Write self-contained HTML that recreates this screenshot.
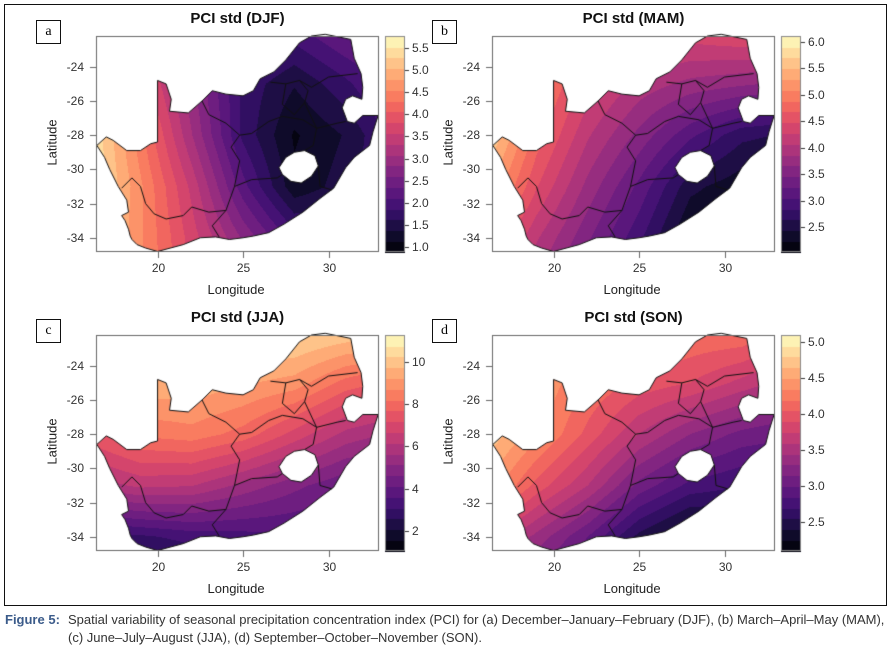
<!DOCTYPE html>
<html><head><meta charset="utf-8">
<style>
body{margin:0;background:#fff;width:894px;height:658px;position:relative;overflow:hidden;font-family:"Liberation Sans",sans-serif;}
.abs{position:absolute;}
.frame{position:absolute;left:4px;top:4px;width:881px;height:600px;border:1px solid #111;}
.title{position:absolute;font-weight:bold;font-size:15px;color:#111;width:300px;text-align:center;}
.lbl{position:absolute;width:23px;height:22px;border:1px solid #111;font-family:"Liberation Serif",serif;font-size:14px;text-align:center;line-height:21px;background:#fff;}
.tick{position:absolute;font-size:12px;color:#333;}
.axt{position:absolute;font-size:13px;color:#222;}
.ylab{position:absolute;font-size:13px;color:#222;transform:rotate(-90deg);transform-origin:center;width:80px;text-align:center;}
.cap{position:absolute;font-family:"Liberation Sans Narrow","Liberation Sans",sans-serif;font-size:13px;color:#333;}
</style></head>
<body>
<div class="frame"></div>
<canvas id="cv" width="894" height="658" class="abs" style="left:0;top:0"></canvas>
<div id="txt"></div>
<div class="cap" style="left:5px;top:612px;font-weight:bold;color:#3b5b8a">Figure 5:</div>
<div class="cap" style="left:68px;top:612px;width:820px;white-space:nowrap">Spatial variability of seasonal precipitation concentration index (PCI) for (a) December–January–February (DJF), (b) March–April–May (MAM),</div>
<div class="cap" style="left:68px;top:630px;white-space:nowrap">(c) June–July–August (JJA), (d) September–October–November (SON).</div>
<script>
const gridLons=[16,19,22,25,28,31,34];
const gridLats=[-22,-25,-28,-31,-34,-37];
const gridDJF=[
[4.8,3.8,3.0,2.3,2.0,2.4,2.6],
[5.2,4.0,2.9,1.8,1.4,1.8,2.3],
[5.6,4.4,3.1,1.8,1.1,1.4,2.0],
[5.6,4.6,3.5,2.2,1.2,1.5,2.0],
[5.4,4.6,3.7,2.8,2.0,1.9,2.2],
[5.2,4.6,3.8,3.0,2.4,2.2,2.4]];
const gridMAM=[
[5.6,5.2,4.8,4.5,4.4,4.5,4.5],
[5.8,5.0,4.4,4.0,3.8,3.7,3.6],
[5.8,4.8,4.1,3.6,3.1,2.7,2.6],
[5.4,4.5,3.8,3.2,2.5,2.3,2.3],
[4.8,4.1,3.5,2.9,2.2,2.1,2.1],
[4.4,3.8,3.2,2.6,2.1,2.0,2.0]];
const gridJJA=[
[10.5,10.5,10.5,10.5,10.5,10.2,10],
[9.5,9.6,9.6,9.3,9.0,8.0,7.5],
[7.5,8.3,8.5,8.0,7.0,6.0,5.5],
[5.8,6.3,6.2,5.5,4.8,4.2,4.0],
[2.8,3.0,3.3,3.4,3.5,3.4,3.3],
[1.5,1.5,2.0,2.5,3.0,3.0,3.0]];
const gridSON=[
[4.6,4.5,4.4,4.3,4.2,4.2,4.0],
[4.8,4.5,4.2,4.0,3.9,3.7,3.5],
[4.8,4.4,4.0,3.6,3.3,3.1,3.0],
[4.5,4.0,3.6,3.1,2.8,2.7,2.8],
[3.8,3.4,3.0,2.5,2.2,2.3,2.5],
[3.4,3.0,2.7,2.3,2.1,2.2,2.4]];
const ticksDJF=[1.0,1.5,2.0,2.5,3.0,3.5,4.0,4.5,5.0,5.5];
const ticksMAM=[2.5,3.0,3.5,4.0,4.5,5.0,5.5,6.0];
const ticksJJA=[2,4,6,8,10];
const ticksSON=[2.5,3.0,3.5,4.0,4.5,5.0];
const rangeDJF=[0.89,5.77], rangeMAM=[2.03,6.11], rangeJJA=[1.07,11.26], rangeSON=[2.1,5.1];
const lonTicks=[20,25,30];
const latTicks=[-24,-26,-28,-30,-32,-34];

const outline=[[16.45,-28.6],[17.0,-28.1],[17.4,-28.3],[18.2,-28.9],[19.0,-28.9],[19.6,-28.5],[20.0,-28.4],[20.0,-24.8],[20.5,-25.0],[20.8,-25.9],[20.7,-26.6],[21.8,-26.7],[22.6,-26.0],[23.2,-25.4],[24.0,-25.6],[25.0,-25.7],[25.6,-25.4],[26.0,-24.7],[26.8,-24.3],[27.5,-23.6],[28.3,-22.6],[29.0,-22.2],[29.8,-22.1],[31.3,-22.4],[31.5,-23.5],[31.9,-24.4],[32.0,-25.2],[31.95,-25.9],[31.4,-25.7],[31.0,-25.9],[30.8,-26.4],[31.1,-27.2],[31.5,-27.3],[32.0,-26.85],[32.9,-26.85],[32.6,-27.8],[32.4,-28.6],[31.5,-29.3],[31.0,-29.9],[30.3,-31.1],[29.5,-31.7],[28.5,-32.5],[27.4,-33.2],[26.5,-33.7],[25.6,-33.9],[25.0,-34.0],[24.2,-34.1],[23.4,-33.95],[22.5,-34.0],[21.5,-34.4],[20.0,-34.8],[19.3,-34.6],[18.8,-34.4],[18.5,-34.1],[18.4,-33.9],[18.3,-33.5],[18.1,-33.0],[17.9,-32.7],[18.3,-32.5],[18.2,-31.8],[17.7,-31.0],[17.2,-30.0],[16.9,-29.3]];
const lesotho=[[27.1,-29.9],[27.5,-29.3],[28.0,-29.0],[28.6,-28.9],[29.2,-29.2],[29.4,-29.8],[29.0,-30.4],[28.4,-30.8],[27.8,-30.7],[27.3,-30.3]];
const provinces=[
[[17.9,-31.1],[18.5,-30.5],[19.0,-31.0],[19.3,-32.0],[19.8,-32.6],[20.5,-32.9],[21.5,-32.7],[22.0,-32.2],[23.0,-32.5],[24.0,-32.4]],
[[24.0,-32.4],[23.2,-33.3],[23.6,-33.95]],
[[24.0,-32.4],[24.5,-31.0],[25.5,-30.6],[27.0,-30.5],[27.3,-30.3]],
[[24.5,-31.0],[24.8,-29.5],[24.3,-28.7],[24.8,-28.0]],
[[22.6,-26.0],[23.0,-26.8],[24.0,-27.3],[24.8,-28.0],[25.5,-27.9],[26.5,-27.2],[27.3,-26.9],[28.5,-27.1],[29.3,-27.6],[29.1,-28.6],[28.6,-28.9]],
[[29.4,-29.8],[29.5,-31.0],[30.2,-31.2]],
[[29.3,-27.6],[30.5,-27.3],[31.0,-27.2]],
[[26.6,-24.9],[27.5,-25.0],[28.3,-24.8],[29.0,-25.2],[30.0,-24.6],[31.7,-24.4]],
[[27.5,-25.0],[27.3,-26.2],[28.0,-26.8],[28.6,-26.1],[28.8,-25.4],[28.3,-24.8]],
[[28.6,-26.1],[29.3,-27.6]]];

const panels=[
{id:'djf',key:'a',title:'PCI std (DJF)',x:96,y:36,grid:gridDJF,ticks:ticksDJF,range:rangeDJF,dec:1},
{id:'mam',key:'b',title:'PCI std (MAM)',x:492,y:36,grid:gridMAM,ticks:ticksMAM,range:rangeMAM,dec:1},
{id:'jja',key:'c',title:'PCI std (JJA)',x:96,y:335,grid:gridJJA,ticks:ticksJJA,range:rangeJJA,dec:0},
{id:'son',key:'d',title:'PCI std (SON)',x:492,y:335,grid:gridSON,ticks:ticksSON,range:rangeSON,dec:1}];
const W=283,H=216,S=17.1,LON0=16.4,LAT0=-22.2,NB=20;
const mag=[[0,0,4],[20,14,54],[59,15,112],[100,26,128],[140,41,129],[183,55,121],[222,73,104],[247,112,92],[254,159,109],[254,207,146],[252,253,191]];
function magma(t){t=Math.max(0,Math.min(1,t))*10;const i=Math.min(9,Math.floor(t)),f=t-i;return mag[i].map((c,k)=>Math.round(c+(mag[i+1][k]-c)*f));}
function interp(g,lon,lat){
 let i=0;while(i<gridLons.length-2&&lon>gridLons[i+1])i++;
 let j=0;while(j<gridLats.length-2&&lat<gridLats[j+1])j++;
 const fx=Math.max(0,Math.min(1,(lon-gridLons[i])/(gridLons[i+1]-gridLons[i])));
 const fy=Math.max(0,Math.min(1,(lat-gridLats[j])/(gridLats[j+1]-gridLats[j])));
 const a=g[j][i]*(1-fx)+g[j][i+1]*fx,b=g[j+1][i]*(1-fx)+g[j+1][i+1]*fx;return a*(1-fy)+b*fy;}
const cv=document.getElementById('cv'),ctx=cv.getContext('2d');
const txt=document.getElementById('txt');
function addText(cls,html,style,name){const d=document.createElement('div');d.className=cls;d.innerHTML=html;d.style.cssText=style;


txt.appendChild(d);return d;}
panels.forEach(p=>{
 const px=lon=>p.x+(lon-LON0)*S, py=lat=>p.y+(LAT0-lat)*S;
 const [vmin,vmax]=p.range;
 const off=document.createElement('canvas');off.width=W;off.height=H;const oc=off.getContext('2d');const im=oc.createImageData(W,H);
 for(let yy=0;yy<H;yy++)for(let xx=0;xx<W;xx++){
  const v=interp(p.grid,LON0+(xx+0.5)/S,LAT0-(yy+0.5)/S);
  let b=Math.floor((v-vmin)/(vmax-vmin)*NB);b=Math.max(0,Math.min(NB-1,b));
  const c=magma((b+0.5)/NB),k=(yy*W+xx)*4;im.data[k]=c[0];im.data[k+1]=c[1];im.data[k+2]=c[2];im.data[k+3]=255;}
 oc.putImageData(im,0,0);
 const path=()=>{ctx.beginPath();outline.forEach((q,i)=>i?ctx.lineTo(px(q[0]),py(q[1])):ctx.moveTo(px(q[0]),py(q[1])));ctx.closePath();
  lesotho.forEach((q,i)=>i?ctx.lineTo(px(q[0]),py(q[1])):ctx.moveTo(px(q[0]),py(q[1])));ctx.closePath();};
 ctx.save();path();ctx.clip('evenodd');ctx.drawImage(off,p.x,p.y);ctx.restore();
 ctx.strokeStyle='#111';ctx.lineWidth=1;path();ctx.stroke();
 provinces.forEach(l=>{ctx.beginPath();l.forEach((q,i)=>i?ctx.lineTo(px(q[0]),py(q[1])):ctx.moveTo(px(q[0]),py(q[1])));ctx.stroke();});
 ctx.strokeStyle='#666';ctx.strokeRect(p.x+0.5,p.y+0.5,W-1,H-1);
 ctx.beginPath();
 lonTicks.forEach(t=>{const x=Math.round(px(t))+0.5;ctx.moveTo(x,p.y+H);ctx.lineTo(x,p.y+H+6);
  addText('tick',String(t),`left:${x-9}px;top:${p.y+H+9}px;width:18px;text-align:center`,'x-tick-label');});
 latTicks.forEach(t=>{const y=Math.round(py(t))+0.5;ctx.moveTo(p.x,y);ctx.lineTo(p.x-6,y);
  addText('tick',String(t),`left:${p.x-38}px;top:${y-8}px;width:26px;text-align:right`,'y-tick-label');});
 ctx.stroke();
 const cx=p.x+289,cw=20;
 for(let b=0;b<NB;b++){const c=magma((b+0.5)/NB);ctx.fillStyle=`rgb(${c})`;const y0=p.y+H-(b+1)*H/NB;ctx.fillRect(cx,Math.floor(y0),cw,Math.ceil(H/NB)+1);}
 ctx.strokeStyle='#888';ctx.strokeRect(cx+0.5,p.y+0.5,cw-1,H-1);
 ctx.strokeStyle='#333';ctx.beginPath();
 p.ticks.forEach(t=>{const y=Math.round(p.y+H-(t-vmin)/(vmax-vmin)*H)+0.5;ctx.moveTo(cx+cw,y);ctx.lineTo(cx+cw+4,y);
  addText('tick',t.toFixed(p.dec),`left:${cx+cw+7}px;top:${y-8}px`,'colorbar-tick-label');});
 ctx.stroke();
 addText('title',p.title,`left:${p.x+W/2-150}px;top:${p.y-26}px`,'panel-title-'+p.id);
 addText('lbl',p.key,`left:${p.x-60}px;top:${p.y-16}px`,'panel-label-'+p.key);
 addText('axt','Longitude',`left:${p.x+W/2-30}px;top:${p.y+H+30}px`,'x-axis-title');
 addText('ylab','Latitude',`left:${p.x-84}px;top:${p.y+H/2-9}px`,'y-axis-title');
});
</script>
</body></html>
